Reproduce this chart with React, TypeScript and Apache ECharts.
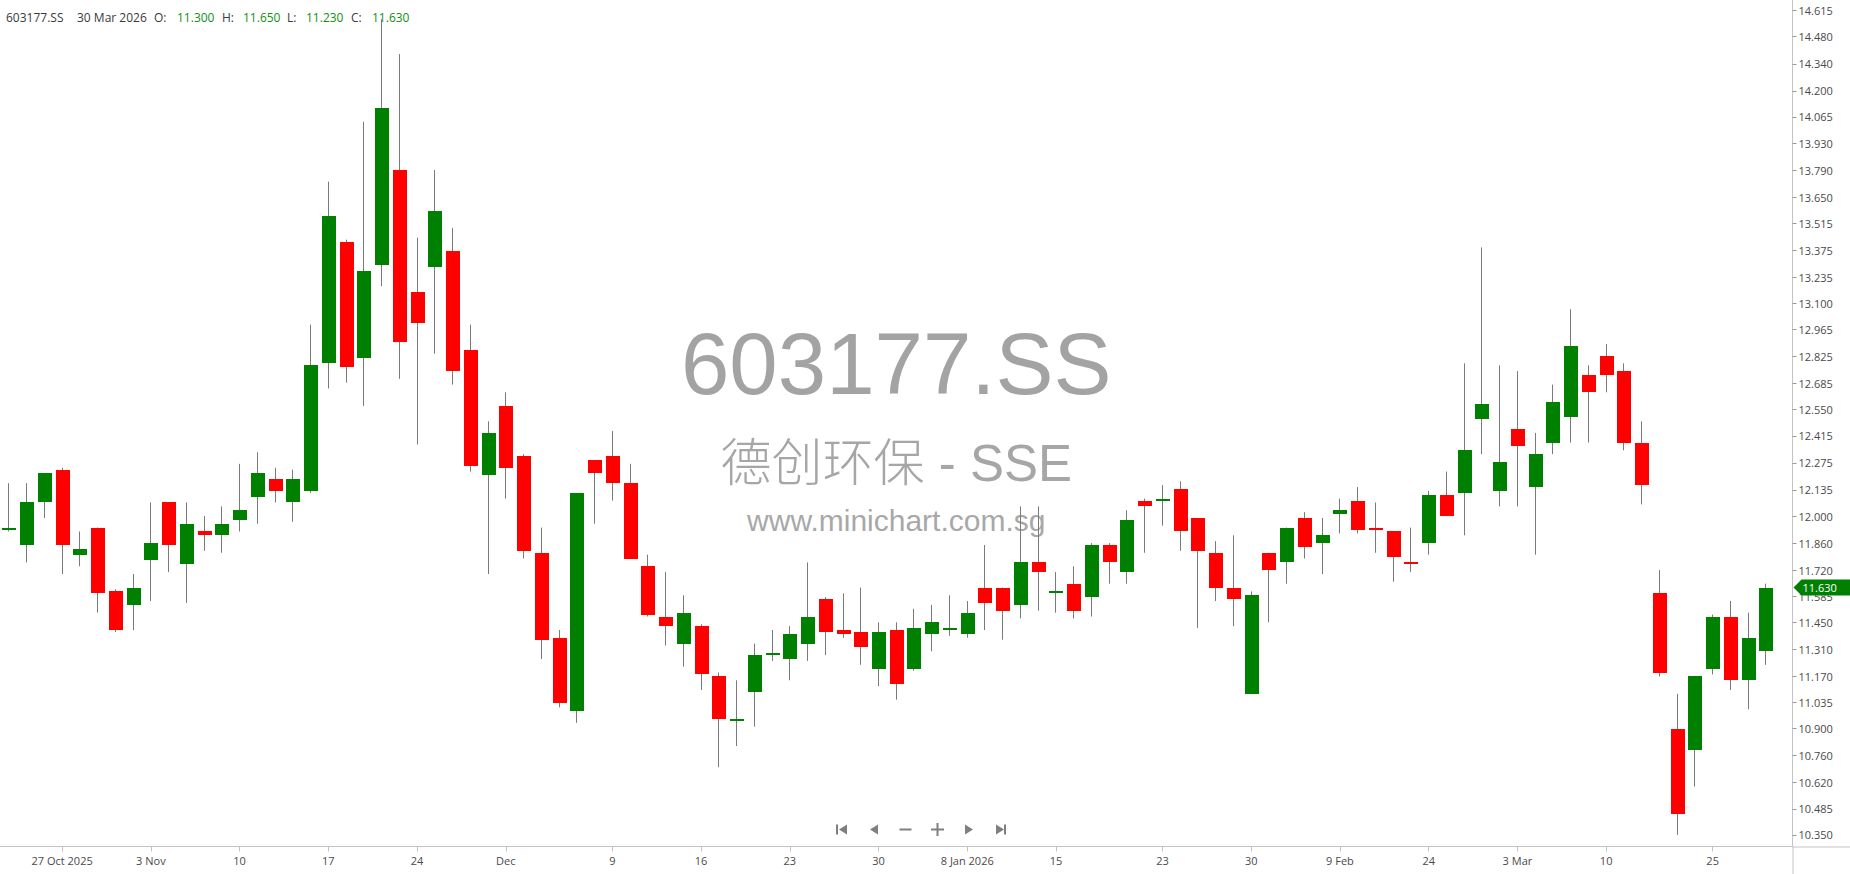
import React, { useEffect, useRef } from 'react';
import * as echarts from 'echarts';

const symbol = '603177.SS';
const companyName = '德创环保 - SSE';
const siteUrl = 'www.minichart.com.sg';

const dates = [
  '2025-10-22', '2025-10-23', '2025-10-24', '2025-10-27', '2025-10-28', '2025-10-29', '2025-10-30', '2025-10-31',
  '2025-11-03', '2025-11-04', '2025-11-05', '2025-11-06', '2025-11-07', '2025-11-10', '2025-11-11', '2025-11-12',
  '2025-11-13', '2025-11-14', '2025-11-17', '2025-11-18', '2025-11-19', '2025-11-20', '2025-11-21', '2025-11-24',
  '2025-11-25', '2025-11-26', '2025-11-27', '2025-11-28', '2025-12-01', '2025-12-02', '2025-12-03', '2025-12-04',
  '2025-12-05', '2025-12-08', '2025-12-09', '2025-12-10', '2025-12-11', '2025-12-12', '2025-12-15', '2025-12-16',
  '2025-12-17', '2025-12-18', '2025-12-19', '2025-12-22', '2025-12-23', '2025-12-24', '2025-12-25', '2025-12-26',
  '2025-12-29', '2025-12-30', '2025-12-31', '2026-01-05', '2026-01-06', '2026-01-07', '2026-01-08', '2026-01-09',
  '2026-01-12', '2026-01-13', '2026-01-14', '2026-01-15', '2026-01-16', '2026-01-19', '2026-01-20', '2026-01-21',
  '2026-01-22', '2026-01-23', '2026-01-26', '2026-01-27', '2026-01-28', '2026-01-29', '2026-01-30', '2026-02-02',
  '2026-02-03', '2026-02-04', '2026-02-05', '2026-02-09', '2026-02-10', '2026-02-11', '2026-02-12', '2026-02-13',
  '2026-02-24', '2026-02-25', '2026-02-26', '2026-02-27', '2026-03-02', '2026-03-03', '2026-03-04', '2026-03-05',
  '2026-03-06', '2026-03-09', '2026-03-10', '2026-03-11', '2026-03-12', '2026-03-20', '2026-03-23', '2026-03-24',
  '2026-03-25', '2026-03-26', '2026-03-27', '2026-03-30',
];

const open = [
  11.94, 11.85, 12.07, 12.24, 11.80, 11.94, 11.61, 11.54, 11.77, 12.07,
  11.75, 11.92, 11.90, 11.98, 12.10, 12.19, 12.07, 12.13, 12.79, 13.42,
  12.82, 13.30, 13.79, 13.16, 13.29, 13.37, 12.86, 12.21, 12.57, 12.31,
  11.81, 11.37, 10.99, 12.29, 12.31, 12.17, 11.74, 11.48, 11.34, 11.43,
  11.17, 10.95, 11.09, 11.29, 11.26, 11.34, 11.57, 11.41, 11.40, 11.21,
  11.41, 11.21, 11.39, 11.41, 11.39, 11.63, 11.63, 11.54, 11.76, 11.61,
  11.65, 11.58, 11.85, 11.71, 12.08, 12.08, 12.14, 11.99, 11.81, 11.63,
  11.08, 11.81, 11.76, 11.99, 11.86, 12.01, 12.08, 11.94, 11.92, 11.76,
  11.86, 12.11, 12.12, 12.50, 12.13, 12.45, 12.15, 12.38, 12.51, 12.73,
  12.83, 12.75, 12.38, 11.60, 10.90, 10.79, 11.21, 11.48, 11.15, 11.30,
];
const high = [
  12.17, 12.17, 12.22, 12.25, 11.92, 11.94, 11.62, 11.70, 12.07, 12.07,
  12.07, 12.00, 12.05, 12.27, 12.33, 12.25, 12.24, 12.99, 13.73, 13.43,
  14.04, 14.57, 14.39, 13.44, 13.79, 13.49, 12.99, 12.49, 12.64, 12.32,
  11.94, 11.41, 12.12, 12.29, 12.44, 12.27, 11.80, 11.71, 11.59, 11.44,
  11.19, 11.15, 11.34, 11.41, 11.43, 11.76, 11.58, 11.60, 11.63, 11.45,
  11.45, 11.52, 11.54, 11.59, 11.56, 11.85, 11.63, 12.05, 12.05, 11.71,
  11.74, 11.86, 11.86, 12.03, 12.09, 12.16, 12.18, 11.99, 11.87, 11.90,
  11.61, 11.81, 11.94, 12.02, 11.99, 12.09, 12.15, 12.07, 11.92, 11.94,
  12.13, 12.23, 12.79, 13.39, 12.78, 12.75, 12.43, 12.68, 13.07, 12.78,
  12.89, 12.79, 12.49, 11.72, 11.08, 11.17, 11.49, 11.56, 11.50, 11.65,
];
const low = [
  11.92, 11.76, 11.99, 11.70, 11.74, 11.50, 11.40, 11.41, 11.56, 11.71,
  11.55, 11.82, 11.81, 11.92, 11.96, 12.07, 11.97, 12.12, 12.66, 12.69,
  12.57, 13.19, 12.71, 12.37, 12.84, 12.68, 12.23, 11.70, 12.09, 11.78,
  11.26, 11.01, 10.93, 11.96, 12.08, 11.78, 11.48, 11.33, 11.22, 11.10,
  10.70, 10.81, 10.91, 11.25, 11.15, 11.25, 11.28, 11.37, 11.23, 11.12,
  11.05, 11.20, 11.30, 11.38, 11.37, 11.41, 11.36, 11.47, 11.51, 11.50,
  11.47, 11.48, 11.65, 11.65, 11.81, 11.95, 11.82, 11.42, 11.56, 11.43,
  11.08, 11.45, 11.65, 11.78, 11.70, 11.91, 11.91, 11.81, 11.66, 11.71,
  11.80, 12.00, 11.90, 12.32, 12.05, 12.05, 11.80, 12.32, 12.38, 12.38,
  12.64, 12.34, 12.06, 11.17, 10.35, 10.60, 11.18, 11.10, 11.00, 11.23,
];
const close = [
  11.94, 12.07, 12.22, 11.85, 11.83, 11.60, 11.41, 11.63, 11.86, 11.85,
  11.96, 11.90, 11.96, 12.03, 12.22, 12.13, 12.19, 12.78, 13.55, 12.77,
  13.27, 14.11, 12.90, 13.00, 13.58, 12.75, 12.26, 12.43, 12.25, 11.82,
  11.36, 11.03, 12.12, 12.22, 12.17, 11.78, 11.49, 11.43, 11.50, 11.18,
  10.95, 10.95, 11.28, 11.29, 11.39, 11.48, 11.40, 11.39, 11.32, 11.40,
  11.13, 11.42, 11.45, 11.42, 11.50, 11.55, 11.51, 11.76, 11.71, 11.61,
  11.51, 11.85, 11.76, 11.98, 12.05, 12.09, 11.92, 11.82, 11.63, 11.57,
  11.59, 11.72, 11.94, 11.84, 11.90, 12.03, 11.93, 11.93, 11.79, 11.75,
  12.11, 12.00, 12.34, 12.58, 12.28, 12.36, 12.32, 12.59, 12.88, 12.64,
  12.73, 12.38, 12.16, 11.19, 10.46, 11.17, 11.48, 11.15, 11.37, 11.63,
];

const xTickDates = [
  '2025-10-27', '2025-11-03', '2025-11-10', '2025-11-17', '2025-11-24', '2025-12-01', '2025-12-09',
  '2025-12-16', '2025-12-23', '2025-12-30', '2026-01-08', '2026-01-15', '2026-01-23', '2026-01-30',
  '2026-02-09', '2026-02-24', '2026-03-03', '2026-03-10', '2026-03-25',
];
const xTickTexts = [
  '27 Oct 2025', '3 Nov', '10', '17', '24', 'Dec', '9',
  '16', '23', '30', '8 Jan 2026', '15', '23', '30',
  '9 Feb', '24', '3 Mar', '10', '25',
];
const yTicks = [
  10.35, 10.485, 10.62, 10.76, 10.9, 11.035, 11.17, 11.31, 11.45, 11.585, 11.72,
  11.86, 12.0, 12.135, 12.275, 12.415, 12.55, 12.685, 12.825, 12.965, 13.1,
  13.235, 13.375, 13.515, 13.65, 13.79, 13.93, 14.065, 14.2, 14.34, 14.48, 14.615,
];
const yMin = 10.29;
const yMax = 14.67;

const monthNames = ['Jan', 'Feb', 'Mar', 'Apr', 'May', 'Jun', 'Jul', 'Aug', 'Sep', 'Oct', 'Nov', 'Dec'];

const UP = '#008000';
const DOWN = '#ff0000';
const WICK = '#7a7a7a';
const AXIS = '#c4c4c4';
const TEXT = '#4a4a4a';
const FONT = '"Open Sans", "Liberation Sans", sans-serif';

const W = 1850;
const H = 874;
const GRID_LEFT = 0;
const GRID_RIGHT = 57.5;
const GRID_TOP = 0;
const GRID_BOTTOM = 27.5;

export default function App() {
  const ref = useRef<HTMLDivElement>(null);

  useEffect(() => {
    document.body.style.margin = '0';
    const chart = echarts.init(ref.current!, null, { renderer: 'svg' });
    const tickMap: Record<string, string> = {};
    xTickDates.forEach((d, i) => (tickMap[d] = xTickTexts[i]));
    const cats = [...dates, ''];
    const data = dates.map((_, i) => [i, open[i], close[i], low[i], high[i]]);

    const renderItem = (params: any, api: any) => {
      const i = api.value(0);
      const o = api.value(1);
      const c = api.value(2);
      const l = api.value(3);
      const h = api.value(4);
      const pO = api.coord([i, o]);
      const pC = api.coord([i, c]);
      const pL = api.coord([i, l]);
      const pH = api.coord([i, h]);
      const band = api.size([1, 0])[0];
      const bw = Math.round(band * 0.77);
      const xc = Math.floor(pO[0]) + 0.5;
      const up = c >= o;
      let top = Math.round(Math.min(pO[1], pC[1]));
      let bot = Math.round(Math.max(pO[1], pC[1]));
      if (bot - top < 2) {
        bot = top + 2;
      }
      return {
        type: 'group',
        children: [
          {
            type: 'line',
            shape: { x1: xc, y1: pH[1], x2: xc, y2: pL[1] },
            style: { stroke: WICK, lineWidth: 1 },
          },
          {
            type: 'rect',
            shape: { x: Math.round(xc - bw / 2), y: top, width: bw, height: bot - top },
            style: { fill: up ? UP : DOWN },
          },
        ],
      };
    };

    const option: any = {
      animation: false,
      backgroundColor: '#ffffff',
      grid: { left: GRID_LEFT, right: GRID_RIGHT, top: GRID_TOP, bottom: GRID_BOTTOM, containLabel: false },
      xAxis: {
        type: 'category',
        data: cats,
        boundaryGap: true,
        axisLine: { show: true, lineStyle: { color: AXIS, width: 1 } },
        axisTick: {
          show: true,
          alignWithLabel: true,
          length: 5,
          interval: (_i: number, v: string) => v in tickMap,
          lineStyle: { color: AXIS },
        },
        axisLabel: {
          show: true,
          interval: (_i: number, v: string) => v in tickMap,
          formatter: (v: string) => tickMap[v] || '',
          color: TEXT,
          fontSize: 11,
          fontFamily: FONT,
          margin: 8,
          hideOverlap: false,
        },
        splitLine: { show: false },
      },
      yAxis: {
        type: 'value',
        position: 'right',
        min: yMin,
        max: yMax,
        axisLine: { show: true, lineStyle: { color: AXIS, width: 1 } },
        axisTick: { show: true, length: 4, customValues: yTicks, lineStyle: { color: '#9a9a9a' } },
        axisLabel: {
          show: true,
          customValues: yTicks,
          formatter: (v: number) => v.toFixed(3),
          color: TEXT,
          fontSize: 11,
          fontFamily: FONT,
          margin: 6,
        },
        splitLine: { show: false },
      },
      series: [
        {
          type: 'custom',
          name: symbol,
          renderItem,
          data,
          encode: { x: 0, y: [1, 2, 3, 4] },
          z: 5,
        },
      ],
    };
    chart.setOption(option);

    // decorations computed from the chart's own scales
    const last = dates.length - 1;
    const lastY = chart.convertToPixel({ yAxisIndex: 0 }, close[last]) as number;
    const axisX = W - GRID_RIGHT;
    const axisY = H - GRID_BOTTOM;
    const cx = (GRID_LEFT + axisX) / 2;
    const upLast = close[last] >= open[last];
    const valColor = upLast ? '#119011' : '#e00000';
    const markerColor = upLast ? UP : DOWN;
    const d = new Date(dates[last] + 'T00:00:00');
    const dateText = `${d.getDate()} ${monthNames[d.getMonth()]} ${d.getFullYear()}`;

    const headerItems: any[] = [
      { x: 6, text: symbol, fill: '#3a3a3a' },
      { x: 77, text: dateText, fill: '#3a3a3a' },
      { x: 154, text: 'O:', fill: '#3a3a3a' },
      { x: 177, text: open[last].toFixed(3), fill: valColor },
      { x: 222, text: 'H:', fill: '#3a3a3a' },
      { x: 243, text: high[last].toFixed(3), fill: valColor },
      { x: 287, text: 'L:', fill: '#3a3a3a' },
      { x: 306, text: low[last].toFixed(3), fill: valColor },
      { x: 351, text: 'C:', fill: '#3a3a3a' },
      { x: 372, text: close[last].toFixed(3), fill: valColor },
    ];

    const navY = 829.5;
    const navColor = '#7f7f7f';
    const graphic: any[] = [
      // watermark
      {
        type: 'text', x: cx, y: 363, z: -10, silent: true,
        style: { text: symbol, fill: '#a3a3a3', font: '87px "Liberation Sans", Arial, sans-serif', textAlign: 'center', textVerticalAlign: 'middle' },
      },
      {
        type: 'text', x: cx, y: 463, z: -10, silent: true,
        style: { text: companyName, fill: '#a6a6a6', font: '300 51px "Liberation Sans", "Noto Sans CJK SC", sans-serif', textAlign: 'center', textVerticalAlign: 'middle' },
      },
      {
        type: 'text', x: cx, y: 520, z: -10, silent: true,
        style: { text: siteUrl, fill: '#a8a8a8', font: '30px "Liberation Sans", Arial, sans-serif', textAlign: 'center', textVerticalAlign: 'middle' },
      },
      // header
      ...headerItems.map((it) => ({
        type: 'text', x: it.x, y: 17, z: 20, silent: true,
        style: { text: it.text, fill: it.fill, font: `12px ${FONT}`, textAlign: 'left', textVerticalAlign: 'middle' },
      })),
      // axis extensions
      { type: 'line', z: 20, shape: { x1: axisX, y1: axisY + 0.5, x2: W, y2: axisY + 0.5 }, style: { stroke: AXIS, lineWidth: 1 } },
      { type: 'line', z: 20, shape: { x1: axisX + 0.5, y1: axisY, x2: axisX + 0.5, y2: H }, style: { stroke: AXIS, lineWidth: 1 } },
      // last price marker
      {
        type: 'polygon', z: 30,
        shape: { points: [[axisX + 1, lastY], [axisX + 9, lastY - 8], [W, lastY - 8], [W, lastY + 8], [axisX + 9, lastY + 8]] },
        style: { fill: markerColor },
      },
      {
        type: 'text', x: axisX + 10, y: lastY, z: 31,
        style: { text: close[last].toFixed(3), fill: '#ffffff', font: `11px ${FONT}`, textAlign: 'left', textVerticalAlign: 'middle' },
      },
      // navigation controls
      { type: 'rect', z: 20, shape: { x: 836, y: navY - 5, width: 2, height: 10 }, style: { fill: navColor } },
      { type: 'polygon', z: 20, shape: { points: [[847, navY - 5], [847, navY + 5], [839, navY]] }, style: { fill: navColor } },
      { type: 'polygon', z: 20, shape: { points: [[878, navY - 5], [878, navY + 5], [870, navY]] }, style: { fill: navColor } },
      { type: 'rect', z: 20, shape: { x: 899.5, y: navY - 1, width: 12, height: 2 }, style: { fill: navColor } },
      { type: 'rect', z: 20, shape: { x: 931, y: navY - 1, width: 13, height: 2 }, style: { fill: navColor } },
      { type: 'rect', z: 20, shape: { x: 936.5, y: navY - 6.5, width: 2, height: 13 }, style: { fill: navColor } },
      { type: 'polygon', z: 20, shape: { points: [[965, navY - 5], [965, navY + 5], [973, navY]] }, style: { fill: navColor } },
      { type: 'polygon', z: 20, shape: { points: [[996, navY - 5], [996, navY + 5], [1004, navY]] }, style: { fill: navColor } },
      { type: 'rect', z: 20, shape: { x: 1004, y: navY - 5, width: 2, height: 10 }, style: { fill: navColor } },
    ];
    chart.setOption({ graphic });

    return () => {
      chart.dispose();
    };
  }, []);

  return (
    <div
      ref={ref}
      style={{ position: 'absolute', left: 0, top: 0, width: W + 'px', height: H + 'px', background: '#fff' }}
    />
  );
}
